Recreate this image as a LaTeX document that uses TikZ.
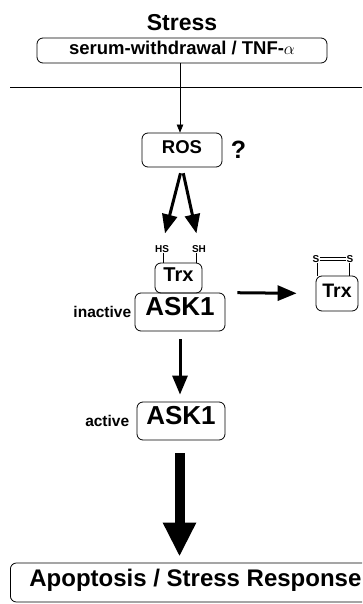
\documentclass[tikz,border=0pt]{standalone}
\usepackage{fontspec}
\setmainfont{Liberation Sans}
\usetikzlibrary{arrows.meta,positioning}
\newcommand\fsz[1]{\fontsize{#1}{#1}\selectfont\bfseries}

\begin{document}
\begin{tikzpicture}[x=1pt,y=-1pt,line width=0.8pt,
    box/.style={draw,rounded corners=6pt,inner sep=0pt,text height=0.72em,text depth=0pt},
    lbl/.style={inner sep=0pt},
    thinarrow/.style={line width=0.6pt,-{Triangle[length=8pt,width=6.5pt]}},
    midarrow/.style={line width=3pt,-{Triangle[length=19pt,width=15pt]}},
    fatarrow/.style={line width=10pt,-{Triangle[length=34pt,width=31pt]}}]
    \clip (0,0) rectangle (362,604);
    \node[lbl,font=\fsz{23}] (stress) at (182,23) {Stress};
    \node[box,font=\fsz{18.5},minimum width=290pt,minimum height=25pt] (stimulus) at (182,50.5)
    {serum-withdrawal / TNF-$\alpha$};
    \draw (10,87) -- (362,87);
    \node[box,font=\fsz{18.5},minimum width=80pt,minimum height=34pt] (ros) at (182,150) {ROS};
    \node[lbl,font=\fsz{25},right=8pt of ros] (query) {?};
    \draw[thinarrow] (stimulus.south -| 180,0) -- (ros.north -| 180,0);
    % thiol groups
    \node[lbl,font=\fsz{10}] (hs) at (162,249) {HS};
    \node[lbl,font=\fsz{10}] (sh) at (199,249) {SH};
    \draw[midarrow,shorten <=6pt,shorten >=12pt] (ros.south) -- (hs.north);
    \draw[midarrow,shorten <=6pt,shorten >=12pt] (ros.south) -- (sh.north);
    \node[box,font=\fsz{20},minimum width=47pt,minimum height=30pt] (trx) at (178.5,278) {Trx};
    \node[box,font=\fsz{26},minimum width=90pt,minimum height=38pt] (ask) at (180,312) {ASK1};
    \node[lbl,font=\fsz{15.5},left=3pt of ask] (inactive) {inactive};
    \draw (hs.south -| 163,0) -- (trx.north -| 163,0);
    \draw (sh.south -| 196,0) -- (trx.north -| 196,0);
    % oxidized Trx
    \node[box,font=\fsz{19.5},minimum width=42pt,minimum height=35pt] (trxox) at (337,293.5) {Trx};
    \node[lbl,font=\fsz{10}] (s1) at (316,259) {S};
    \node[lbl,font=\fsz{10}] (s2) at (350,259) {S};
    \draw[line width=0.7pt] ([yshift=-1.3pt]s1.east) -- ([yshift=-1.3pt]s2.west)
    ([yshift=1.3pt]s1.east) -- ([yshift=1.3pt]s2.west);
    \draw (s1.south -| 317,0) -- (trxox.north -| 317,0);
    \draw (s2.south -| 349,0) -- (trxox.north -| 349,0);
    \draw[midarrow,shorten <=12pt,shorten >=19pt] (ask.north east) -- (trxox.west);
    % activation
    \node[box,font=\fsz{26},minimum width=88pt,minimum height=38pt] (active) at (181,421) {ASK1};
    \node[lbl,font=\fsz{15.5},left=7pt of active] (activelbl) {active};
    \draw[midarrow,shorten <=8pt,shorten >=7pt] (ask.south) -- (active.north -| ask.south);
    \node[box,font=\fsz{24},minimum width=370pt,minimum height=39pt,anchor=west] (response) at (10,582.5)
    {Apoptosis / Stress Response};
    \draw[fatarrow,shorten <=13pt,shorten >=6pt] (active.south -| 179.5,0) -- (response.north -| 179.5,0);
\end{tikzpicture}
\end{document}
